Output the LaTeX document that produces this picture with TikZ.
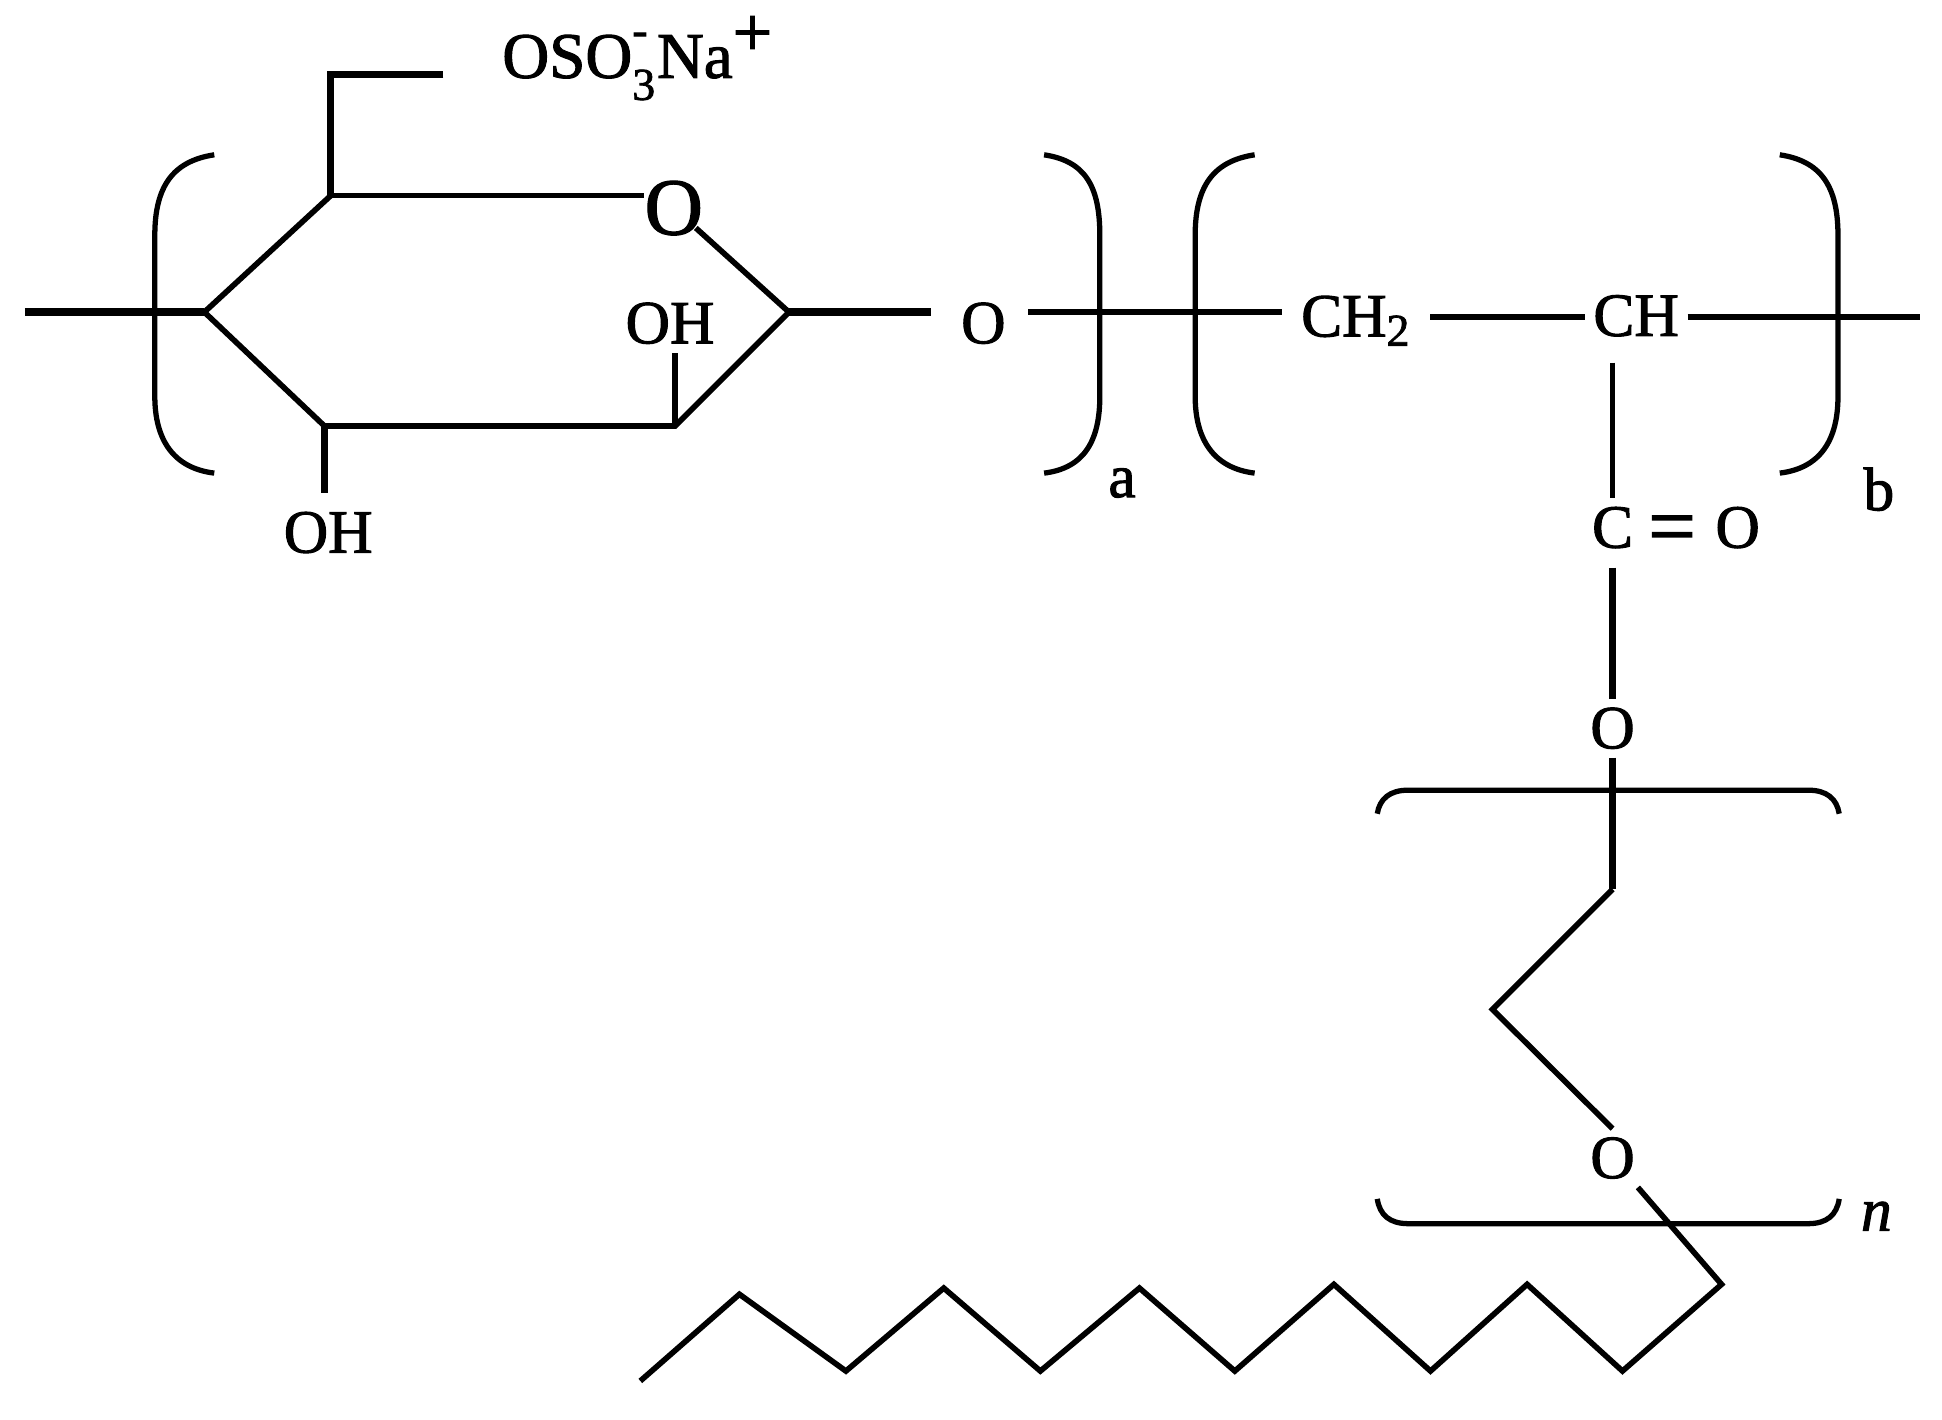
\documentclass[tikz,border=0pt]{standalone}
\usepackage{fontspec}
\setmainfont{Liberation Serif}[FakeBold=1.6]
\usetikzlibrary{calc}

\tikzset{
  bond/.style={line width=1.6pt},
  heavy/.style={line width=2.1pt},
  bracket/.style={line width=1.5pt},
  atom/.style={inner sep=.08cm,font=\fontsize{17.5}{20}\selectfont}
}
\newcommand{\smalltxt}[1]{\mbox{\fontsize{13}{14}\selectfont #1}}

\begin{document}
\begin{tikzpicture}[x=0.012385cm,y=-0.012385cm]
\useasboundingbox (0,0) rectangle (1568,1146);

% sugar ring
\coordinate (c1) at (165,252);
\coordinate (c2) at (267,158);
\coordinate (c4) at (637,252);
\coordinate (c5) at (545,344);
\coordinate (c6) at (262,344);
\coordinate (stub) at (20,252);
\coordinate (arm) at (267,60);
\coordinate (armend) at (358,60);

\node at (544,168) (ringo)[inner sep=0pt,font=\fontsize{23}{24}\selectfont] {O};
\node at (541,261) (oh1)[atom] {OH};
\node at (265,430) (oh2)[atom] {OH};
\node at (405,47) (sulf)[atom,anchor=west,inner sep=0pt] {\fontsize{18.5}{20}\selectfont OSO$^{\raisebox{3pt}{\smalltxt{-}}}_{\raisebox{-2pt}{\smalltxt{3}}}$Na$^{\mbox{\fontsize{20}{20}\selectfont +}}$};

\draw[heavy] (stub) -- (c1);
\draw[bond] (c1) -- (c2);
\draw[bond] (c2) -- (c2 -| ringo.west);
\draw[bond,shorten <=-3pt] (ringo) -- (c4);
\draw[bond] (c4) -- (c5) -- (c6) -- (c1);
\draw[bond] (c5) -- (oh1.south -| c5);
\draw[heavy,shorten >=3pt] (c6) -- (oh2.north -| c6);
\draw[heavy] (armend) -- (arm) -- (c2);

% backbone
\node at (794,261) (o2)[atom] {O};
\node at (1095,259) (ch2)[atom] {CH$_{\smalltxt{2}}$};
\node at (1321,255) (ch)[atom] {CH};
\coordinate (tail) at (1550,256);

\draw[heavy,shorten >=6pt] (c4) -- (c4 -| o2.west);
\draw[bond,shorten <=4pt,shorten >=3pt] (c4 -| o2.east) -- (c4 -| ch2.west);
\draw[bond,shorten <=3pt] (tail -| ch2.east) -- (tail -| ch.west);
\draw[bond] (tail -| ch.east) -- (tail);

% brackets
\draw[bracket] (173,125) .. controls (140,130) and (125,150) .. (125,190) -- (125,320) .. controls (125,355) and (140,378) .. (173,382);
\draw[bracket] (843,125) .. controls (876,130) and (888,150) .. (888,190) -- (888,320) .. controls (888,355) and (876,378) .. (843,382);
\draw[bracket] (1013,125) .. controls (980,130) and (965,150) .. (965,190) -- (965,320) .. controls (965,355) and (980,378) .. (1013,382);
\draw[bracket] (1437,125) .. controls (1470,130) and (1484,150) .. (1484,190) -- (1484,320) .. controls (1484,355) and (1470,378) .. (1437,382);
\node at (906,390) (suba)[atom] {a};
\node at (1517,395) (subb)[atom] {b};

% ester
\node at (1302,426) (carb)[atom] {C};
\node at (1350,432) (dbl)[atom,inner sep=0pt,font=\fontsize{24}{24}\selectfont] {=};
\node at (1403,426) (o3)[atom] {O};
\node at (1302,588) (o4)[atom] {O};

\draw[bond,shorten <=5pt] (ch.south -| carb) -- (carb);
\draw[heavy,shorten <=3pt] (carb) -- (o4);

% ethoxy unit
\coordinate (e1) at (1302,718);
\coordinate (e2) at (1205,815);
\node at (1302,935) (o5)[atom] {O};
\node at (1515,982) (subn)[atom] {\itshape n};

\draw[heavy] (o4) -- (e1);
\draw[bond] (e1) -- (e2) -- (o5.north);

\draw[bracket] (1112,657) .. controls (1114,645) and (1122,638) .. (1137,638) -- (1460,638) .. controls (1475,638) and (1483,645) .. (1485,657);
\draw[bracket] (1112,968) .. controls (1114,981) and (1122,988) .. (1137,988) -- (1460,988) .. controls (1475,988) and (1483,981) .. (1485,968);

% alkyl tail
\draw[bond,line join=miter] (o5) -- (1390,1037) -- (1310,1107) -- (1233,1037) -- (1155,1107) -- (1077,1037) -- (997,1107) -- (920,1040) -- (840,1107) -- (762,1040) -- (683,1107) -- (597,1045) -- (517,1115);

\end{tikzpicture}
\end{document}
